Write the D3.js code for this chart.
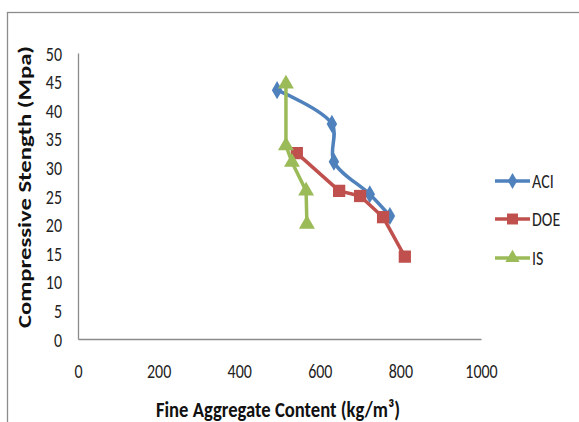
<!DOCTYPE html>
<html>
<head>
<meta charset="utf-8">
<script src="https://cdn.jsdelivr.net/npm/d3@7"></script>
<style>
  html, body { margin: 0; padding: 0; background: #fff; }
  svg { display: block; }
</style>
</head>
<body>
<svg id="chart" width="579" height="422"></svg>
<script>
// Fine aggregate content (kg/m³) vs compressive strength (MPa)
const seriesNames = ["ACI", "DOE", "IS"];
const aciX = [494, 630, 635, 724, 774];
const aciY = [43.5, 37.6, 31.0, 25.3, 21.5];
const doeX = [543, 648, 700, 757, 811];
const doeY = [32.5, 25.9, 25.0, 21.3, 14.4];
const isX = [516, 516, 531, 566, 568];
const isY = [44.6, 33.8, 30.9, 25.9, 20.1];
const xTicks = [0, 200, 400, 600, 800, 1000];
const yTicks = [0, 5, 10, 15, 20, 25, 30, 35, 40, 45, 50];

const colors = { ACI: "#4F81BD", DOE: "#C0504D", IS: "#9BBB59" };
const font = "Carlito, Lato, 'Open Sans', sans-serif";
const tall = 1.32; // glyphs are drawn taller than wide

const svg = d3.select("#chart");

// outer chart frame
svg.append("rect")
  .attr("x", 7.5).attr("y", 12.5).attr("width", 640).attr("height", 500)
  .attr("fill", "none").attr("stroke", "#8c8c8c").attr("stroke-width", 1.3);

const x = d3.scaleLinear().domain([0, 1000]).range([78, 481]);
const y = d3.scaleLinear().domain([0, 50]).range([339, 53]);

// axes
const xAxis = svg.append("g").attr("transform", "translate(0,339)")
  .call(d3.axisBottom(x).tickValues(xTicks).tickFormat(d3.format("d")).tickSize(0).tickPadding(0));
const yAxis = svg.append("g").attr("transform", "translate(78,0)")
  .call(d3.axisLeft(y).tickValues(yTicks).tickFormat(d3.format("d")).tickSize(0).tickPadding(0));
[xAxis, yAxis].forEach(g => {
  g.select(".domain").attr("stroke", "#8a8a8a").attr("stroke-width", 1.3);
});
xAxis.selectAll(".tick text")
  .attr("y", null).attr("dy", null)
  .attr("font-family", font).attr("font-size", 16).attr("fill", "#222")
  .attr("transform", `translate(0,39) scale(1,${tall})`);
yAxis.selectAll(".tick text")
  .attr("x", null).attr("dy", null)
  .attr("font-family", font).attr("font-size", 16).attr("fill", "#222")
  .attr("transform", `translate(-16,7) scale(1,${tall})`);

// axis titles
svg.append("text")
  .attr("transform", `translate(278,417) scale(1,${tall})`)
  .attr("text-anchor", "middle")
  .attr("font-family", font).attr("font-size", 17).attr("font-weight", "bold").attr("fill", "#111")
  .attr("textLength", 244).attr("lengthAdjust", "spacingAndGlyphs")
  .text("Fine Aggregate Content (kg/m³)");
svg.append("text")
  .attr("transform", "translate(31,187) rotate(-90)")
  .attr("text-anchor", "middle")
  .attr("font-family", font).attr("font-size", 18).attr("font-weight", "bold").attr("fill", "#111")
  .attr("textLength", 282).attr("lengthAdjust", "spacingAndGlyphs")
  .text("Compressive Stength (Mpa)");

const series = [
  { name: "ACI", xs: aciX, ys: aciY, curve: d3.curveCatmullRom.alpha(0.5), symbol: d3.symbolDiamond, size: 95 },
  { name: "DOE", xs: doeX, ys: doeY, curve: d3.curveLinear, symbol: d3.symbolSquare, size: 150 },
  { name: "IS", xs: isX, ys: isY, curve: d3.curveLinear, symbol: d3.symbolTriangle, size: 110 }
];

series.forEach(s => {
  const pts = s.xs.map((v, i) => [v, s.ys[i]]);
  const line = d3.line().x(d => x(d[0])).y(d => y(d[1])).curve(s.curve);
  svg.append("path")
    .datum(pts)
    .attr("d", line)
    .attr("fill", "none")
    .attr("stroke", colors[s.name])
    .attr("stroke-width", 3.5)
    .attr("stroke-linejoin", "round")
    .attr("stroke-linecap", "round");
  svg.append("g").selectAll("path")
    .data(pts)
    .join("path")
    .attr("transform", d => `translate(${x(d[0])},${y(d[1])})`)
    .attr("d", d3.symbol().type(s.symbol).size(s.size))
    .attr("fill", colors[s.name]);
});

// legend
const legendY = [181, 219, 258];
series.forEach((s, i) => {
  const g = svg.append("g").attr("transform", `translate(495,${legendY[i]})`);
  g.append("line").attr("x1", 0).attr("x2", 35).attr("y1", 0).attr("y2", 0)
    .attr("stroke", colors[s.name]).attr("stroke-width", 3.5);
  g.append("path").attr("transform", "translate(17.5,0)")
    .attr("d", d3.symbol().type(s.symbol).size(s.size * 0.8))
    .attr("fill", colors[s.name]);
  g.append("text")
    .attr("transform", `translate(37,7) scale(1,${tall})`)
    .attr("font-family", font).attr("font-size", 16).attr("fill", "#222")
    .text(s.name);
});
</script>
</body>
</html>
